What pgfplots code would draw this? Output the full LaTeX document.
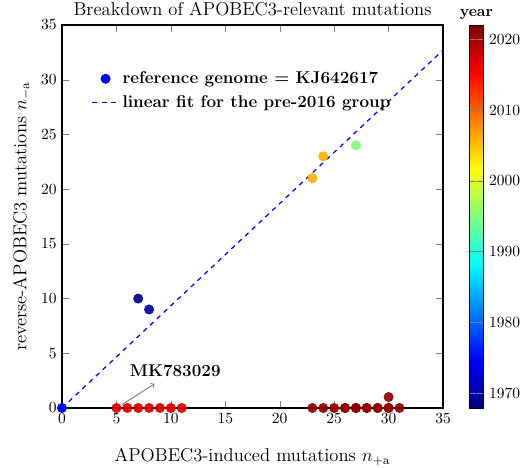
\documentclass[border=0pt]{standalone}
\usepackage{pgfplots}
\pgfplotsset{compat=1.18}

\pgfplotstableread{
x  y  year
7  10 1969
8  9  1970
23 21 2006
24 23 2006
27 24 1995
5  0  2017
6  0  2017
7  0  2017
8  0  2017
9  0  2017
10 0  2017
11 0  2017
23 0  2021
24 0  2021
25 0  2021
26 0  2021
27 0  2021
28 0  2021
29 0  2021
30 0  2021
31 0  2021
26 0  2021
27 0  2021
28 0  2021
29 0  2021
30 0  2021
30 1  2021
}\seqs

\begin{document}
\begin{tikzpicture}
\begin{axis}[
  scale only axis,
  width=245.8pt, height=247.1pt,
  xmin=0, xmax=35, ymin=0, ymax=35,
  xtick={0,5,...,35}, ytick={0,5,...,35},
  axis line style={line width=0.8pt},
  title={Breakdown of APOBEC3-relevant mutations},
  title style={font=\large, yshift=-4pt},
  xlabel={APOBEC3-induced mutations $n_{+\mathrm{a}}$},
  ylabel={reverse-APOBEC3 mutations $n_{-\mathrm{a}}$},
  label style={font=\large},
  xlabel style={yshift=-9pt},
  colormap/jet,
  point meta min=1968, point meta max=2022,
  colorbar,
  colorbar style={
    at={(parent axis.north east)}, anchor=north west, xshift=8.3pt,
    width=9.4pt,
    ytick={1970,1980,...,2020},
    yticklabel style={/pgf/number format/1000 sep={}},
    major tick style={gray, line width=0.6pt},
    title={\bfseries year},
    title style={yshift=-6pt},
  },
  legend style={at={(0.065,0.895)}, anchor=north west, draw=none, fill=none,
    font=\fontsize{11}{13}\selectfont\bfseries, row sep=2pt},
  legend cell align=left,
  clip=false,
]
\coordinate (O) at (rel axis cs:0,0);
\addplot[only marks, mark=*, color=blue, mark size=3pt] coordinates {(0,0)};
\addlegendentry{reference genome = KJ642617}
\addplot[blue, dashed, line width=0.8pt] coordinates {(0,0) (35,32.7)};
\addlegendentry{linear fit for the pre-2016 group}
\addplot[scatter, only marks, mark=*, mark size=3pt,
  scatter/use mapped color={draw=mapped color, fill=mapped color},
  mark options={fill opacity=0.92, draw opacity=0.92},
  point meta=explicit, forget plot]
  table[x=x, y=y, meta=year] {\seqs};
\draw[->, gray, line width=0.6pt] (axis cs:5.5,0.3) -- (axis cs:8.5,2.2);
\node[font=\fontsize{11}{13}\selectfont\bfseries, anchor=west, inner sep=0pt]
  at (axis cs:6.2,3.4) {MK783029};
\end{axis}
\pgfresetboundingbox
\useasboundingbox (O) ++(-40pt,-38.1pt) rectangle ++(337.4pt,301.3pt);
\end{tikzpicture}
\end{document}
